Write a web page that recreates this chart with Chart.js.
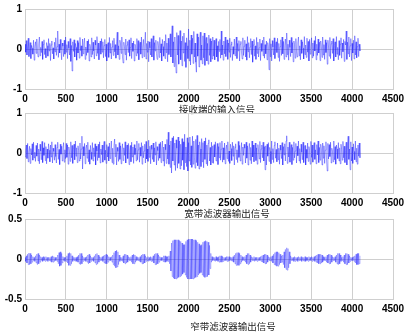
<!DOCTYPE html>
<html>
<head>
<meta charset="utf-8">
<script src="https://cdn.jsdelivr.net/npm/chart.js@4"></script>
<style>
  html, body { margin: 0; padding: 0; background: #ffffff; }
  #wrap { position: relative; width: 411px; height: 333px; }
  #wrap canvas { position: absolute; left: 0; top: 0; }
</style>
</head>
<body>
<div id="wrap">
  <canvas id="c1" width="411" height="333"></canvas>
  <canvas id="c2" width="411" height="333"></canvas>
  <canvas id="c3" width="411" height="333"></canvas>
</div>
<script>
/* sample step between stored values (samples 0..4096) */
var sampleStep = 8;

/* x ticks shared by all three plots */
var xTicks = [0, 500, 1000, 1500, 2000, 2500, 3000, 3500, 4000, 4500];

/* subplot titles */
var titles = ['接收端的输入信号', '宽带滤波器输出信号', '窄带滤波器输出信号'];

/* received input signal */
var inputSignal = [
  0.12,-0.08,0.21,-0.15,0.05,0.27,-0.19,-0.03,0.16,-0.24,0.09,0.02,-0.13,0.22,-0.28,0.07,
  0.18,-0.11,0.25,-0.06,-0.20,0.13,0.30,-0.17,0.04,-0.09,0.19,-0.26,0.11,0.23,-0.14,0.01,
  -0.22,0.16,0.08,-0.18,0.26,-0.05,0.14,-0.29,0.10,0.20,-0.12,0.03,-0.25,0.17,-0.07,0.28,
  -0.16,0.06,0.45,-0.21,0.12,-0.10,0.24,-0.02,-0.27,0.15,0.07,-0.19,0.22,-0.13,0.30,-0.08,
  0.11,-0.24,0.19,0.02,-0.15,0.26,-0.31,0.09,-0.55,0.18,-0.06,0.23,-0.20,0.14,0.04,-0.28,
  0.21,-0.10,0.16,-0.23,0.29,-0.04,0.08,-0.18,0.25,-0.12,0.13,0.27,-0.26,0.05,-0.16,0.20,
  -0.09,0.24,-0.30,0.12,0.06,-0.20,0.28,-0.14,0.17,-0.05,-0.25,0.22,0.10,-0.17,0.31,-0.11,
  0.15,-0.27,0.03,0.20,-0.13,0.26,-0.08,0.18,-0.22,0.09,0.24,-0.19,0.12,-0.30,0.07,0.16,
  -0.21,0.29,-0.10,0.14,-0.25,0.05,0.21,-0.16,0.27,-0.07,0.11,-0.23,0.18,0.42,-0.15,0.08,
  -0.26,0.22,0.13,-0.11,0.30,-0.20,-0.35,0.17,0.06,-0.14,0.25,-0.28,0.10,0.19,-0.09,0.23,
  -0.18,0.04,0.28,-0.24,0.15,-0.06,0.20,-0.30,0.12,0.07,-0.17,0.26,-0.11,0.21,-0.27,0.09,
  0.17,-0.13,0.30,-0.22,0.05,0.24,-0.19,0.11,0.42,-0.25,0.14,-0.08,0.20,-0.32,0.18,0.03,
  -0.15,0.26,-0.20,0.10,0.33,-0.28,0.16,-0.05,0.22,-0.12,-0.26,0.19,0.08,-0.21,0.29,-0.10,
  0.13,-0.30,0.24,0.06,-0.18,0.20,-0.24,0.36,-0.09,0.15,-0.32,0.27,-0.14,0.10,0.38,-0.20,
  0.25,0.58,-0.35,0.18,-0.44,0.30,-0.22,-0.60,0.41,-0.15,0.34,-0.38,0.12,0.46,-0.27,0.20,
  -0.42,0.32,-0.10,0.40,-0.31,0.16,-0.46,0.28,0.08,-0.24,0.50,-0.30,0.22,-0.40,0.35,-0.13,
  0.27,-0.36,0.44,-0.20,0.15,-0.33,-0.58,0.38,-0.18,0.30,-0.45,0.24,0.42,-0.28,0.10,-0.37,
  0.33,-0.22,0.40,-0.41,0.18,0.29,-0.30,0.14,-0.38,0.35,-0.16,0.26,-0.32,0.20,-0.25,0.30,
  -0.18,0.22,-0.27,0.12,0.26,-0.20,0.08,-0.31,0.19,-0.06,0.24,-0.23,0.45,-0.15,0.10,-0.28,
  0.20,-0.12,0.30,-0.19,0.04,0.23,-0.26,0.15,-0.08,0.27,-0.21,0.11,0.18,-0.29,0.06,-0.13,
  0.25,-0.17,0.09,0.30,-0.24,0.14,-0.05,0.21,-0.30,0.12,0.19,-0.10,-0.25,0.28,-0.16,0.07,
  0.22,-0.20,0.13,-0.28,0.31,-0.07,0.16,-0.22,0.05,0.26,-0.14,0.20,-0.33,0.10,0.24,-0.18,
  0.08,-0.26,0.29,-0.11,0.17,-0.20,0.03,0.25,-0.29,0.14,-0.06,0.22,-0.17,0.30,-0.23,0.11,
  -0.12,0.20,-0.27,0.16,0.07,-0.52,0.26,-0.19,0.13,-0.30,0.21,0.05,-0.15,0.28,-0.24,0.10,
  0.18,-0.09,0.27,-0.21,0.14,-0.31,0.06,0.23,-0.16,0.30,-0.12,0.19,-0.26,0.09,0.25,-0.20,
  0.40,-0.14,0.12,-0.28,0.22,0.04,-0.19,0.29,-0.10,0.16,-0.32,0.20,0.11,-0.23,0.26,-0.06,
  -0.20,0.15,0.30,-0.17,0.08,-0.27,0.23,-0.11,0.18,0.02,-0.25,0.31,-0.14,0.10,-0.21,0.27,
  -0.08,0.19,-0.30,0.24,-0.13,0.06,0.28,-0.22,0.15,-0.18,0.21,-0.05,0.32,-0.27,0.12,-0.16,
  0.25,-0.10,0.17,-0.29,0.20,0.07,-0.21,0.30,-0.15,0.11,-0.26,0.23,-0.09,0.16,-0.38,0.22,
  0.05,-0.18,0.29,-0.24,0.13,0.20,-0.11,0.26,-0.30,0.09,0.18,-0.20,0.31,-0.13,0.04,-0.27,
  0.21,-0.16,0.12,0.28,-0.23,0.15,-0.07,0.24,-0.31,0.19,0.10,0.45,-0.26,0.17,-0.12,0.30,
  -0.20,0.08,0.26,-0.29,0.14,-0.10,0.22,-0.25,0.33,-0.15,0.18,-0.22,0.06,0.27,-0.19,0.12,
  -0.05
];

/* wideband filter output */
var wideOutput = [
  -0.10,0.06,0.20,-0.14,0.24,-0.22,0.03,0.17,-0.26,0.11,-0.05,0.23,-0.18,0.27,-0.12,0.02,
  -0.21,0.19,-0.08,0.25,-0.20,0.10,-0.27,0.22,0.05,-0.17,0.29,-0.24,0.13,-0.06,0.26,-0.19,
  0.16,-0.27,0.10,-0.13,0.23,0.07,-0.22,0.20,-0.10,0.28,-0.25,0.12,0.04,-0.18,0.21,-0.09,
  -0.25,0.14,0.27,-0.16,0.09,-0.29,0.22,-0.03,0.17,-0.20,0.12,0.26,-0.23,0.08,-0.14,0.24,
  -0.11,0.20,-0.28,0.15,0.03,-0.21,0.28,-0.12,0.19,-0.26,0.09,0.22,-0.17,0.30,-0.08,0.13,
  -0.24,0.18,0.06,-0.20,0.25,-0.15,0.10,0.42,-0.40,0.16,-0.07,0.24,-0.27,0.11,0.20,-0.13,
  0.27,-0.22,0.08,-0.28,0.19,0.02,-0.16,0.26,-0.20,0.13,-0.09,0.23,-0.30,0.17,0.05,-0.19,
  0.22,-0.12,0.28,-0.25,0.10,-0.04,0.20,-0.23,0.15,0.29,-0.18,0.07,-0.26,0.21,-0.10,0.16,
  -0.20,0.25,-0.14,0.06,0.30,-0.24,0.12,-0.28,0.19,0.35,-0.09,0.22,-0.30,0.14,0.04,-0.21,
  0.26,-0.16,0.18,-0.27,0.09,0.23,-0.19,0.13,-0.06,0.28,-0.25,0.11,0.20,-0.14,0.24,-0.29,
  0.07,0.19,-0.22,0.27,-0.10,0.15,-0.26,0.21,-0.04,0.12,-0.20,0.30,-0.17,0.08,0.24,-0.23,
  0.14,-0.08,0.26,-0.28,0.18,-0.12,0.05,0.22,-0.25,0.29,-0.15,0.10,-0.21,0.32,-0.11,0.17,
  -0.27,0.20,0.09,-0.16,0.25,-0.22,0.13,-0.05,0.28,-0.30,0.16,0.06,-0.19,0.23,-0.13,0.27,
  -0.24,0.10,0.30,-0.20,0.15,-0.33,0.22,0.08,-0.26,0.34,-0.15,0.52,-0.28,0.20,-0.36,0.30,
  -0.50,0.38,-0.20,0.42,-0.30,0.25,-0.44,0.33,0.12,-0.38,0.40,-0.26,0.30,-0.40,0.22,-0.32,
  0.36,-0.18,0.28,-0.42,0.47,-0.24,0.15,-0.34,0.38,-0.45,0.26,-0.20,0.40,-0.30,0.18,-0.36,
  0.42,-0.28,0.30,-0.12,-0.38,0.34,-0.24,0.44,-0.32,0.20,-0.40,0.28,0.10,-0.34,0.36,-0.22,
  0.26,-0.37,0.30,-0.16,0.38,-0.27,0.20,-0.32,0.24,0.33,-0.20,0.14,-0.30,0.27,-0.24,0.18,
  -0.26,0.21,-0.10,0.28,-0.20,0.07,0.24,-0.29,0.16,-0.12,0.26,-0.18,0.10,0.30,-0.23,0.13,
  -0.17,0.25,-0.27,0.09,0.20,-0.14,0.28,-0.21,0.05,-0.26,0.22,0.11,-0.19,0.27,-0.08,0.18,
  -0.30,0.14,0.23,-0.16,0.08,-0.24,0.29,-0.11,0.19,-0.20,0.03,0.26,-0.28,0.15,-0.06,0.22,
  0.12,-0.25,0.27,-0.13,0.18,-0.30,0.09,0.24,-0.18,0.14,-0.27,0.30,-0.10,0.20,-0.22,0.06,
  0.25,-0.19,0.13,-0.28,0.21,0.05,-0.15,0.29,-0.24,0.10,0.20,-0.12,0.27,-0.20,0.16,-0.42,
  0.18,-0.30,0.22,-0.08,0.26,-0.21,0.14,0.04,-0.27,0.30,-0.16,0.11,-0.24,0.19,0.28,-0.13,
  0.09,-0.22,0.25,-0.17,0.12,-0.28,0.20,0.07,-0.14,0.26,-0.30,0.16,-0.05,0.23,-0.20,0.30,
  0.43,-0.26,0.15,-0.10,0.27,-0.23,0.08,0.21,-0.29,0.14,-0.18,0.28,-0.12,0.05,0.24,-0.25,
  0.17,-0.07,0.30,-0.20,0.11,-0.26,0.22,0.02,-0.17,0.27,-0.24,0.13,0.19,-0.30,0.09,-0.13,
  0.25,-0.21,0.16,0.06,-0.28,0.29,-0.11,0.20,-0.23,0.12,0.26,-0.16,0.08,-0.27,0.21,-0.05,
  0.30,-0.24,0.14,-0.18,0.22,0.10,-0.30,0.25,-0.13,0.18,-0.26,0.07,0.28,-0.20,-0.45,0.24,
  -0.15,0.21,-0.09,0.27,-0.25,0.12,0.04,-0.22,0.30,-0.17,0.16,-0.28,0.20,0.10,-0.14,0.26,
  -0.20,0.13,-0.27,0.22,0.08,-0.18,0.29,-0.12,0.17,-0.24,0.06,0.27,-0.30,0.19,0.42,-0.16,
  0.10,-0.42,0.28,-0.20,0.15,-0.26,0.23,0.04,-0.17,0.30,-0.22,0.12,-0.28,0.20,-0.08,0.25,
  -0.12
];

/* narrowband filter output */
var narrowOutput = [
  0.02,-0.03,0.04,-0.05,0.06,-0.07,0.075,-0.07,0.07,-0.06,0.05,-0.04,0.03,-0.02,0.02,-0.03,
  0.04,-0.05,0.06,-0.07,0.07,-0.06,0.05,-0.04,0.03,-0.02,0.02,-0.03,0.03,-0.02,0.02,-0.03,
  0.03,-0.02,0.02,-0.03,0.02,-0.02,0.02,-0.03,0.03,-0.04,0.04,-0.04,0.03,-0.03,0.02,-0.02,
  0.02,-0.03,0.05,-0.06,0.08,-0.09,0.09,-0.08,0.07,-0.05,0.03,-0.02,0.02,-0.03,0.02,-0.03,
  0.04,-0.05,0.07,-0.08,0.08,-0.08,0.07,-0.06,0.04,-0.03,0.02,-0.02,0.02,-0.03,0.02,-0.03,
  0.03,-0.04,0.05,-0.06,0.07,-0.07,0.07,-0.06,0.04,-0.03,0.02,-0.02,0.02,-0.03,0.03,-0.04,
  0.05,-0.06,0.06,-0.05,0.04,-0.03,0.02,-0.02,0.02,-0.03,0.04,-0.05,0.06,-0.07,0.07,-0.06,
  0.05,-0.04,0.03,-0.02,0.02,-0.02,0.03,-0.03,0.04,-0.05,0.05,-0.06,0.06,-0.06,0.05,-0.04,
  0.03,-0.02,0.02,-0.02,0.03,-0.04,0.05,-0.07,0.08,-0.09,0.10,-0.11,0.11,-0.10,0.09,-0.07,
  0.05,-0.03,0.02,-0.02,0.02,-0.03,0.04,-0.05,0.06,-0.06,0.06,-0.05,0.05,-0.04,0.03,-0.02,
  0.02,-0.02,0.03,-0.04,0.05,-0.06,0.06,-0.06,0.05,-0.04,0.03,-0.02,0.02,-0.02,0.02,-0.03,
  0.03,-0.04,0.05,-0.06,0.06,-0.06,0.06,-0.05,0.04,-0.03,0.02,-0.02,0.03,-0.03,0.02,-0.02,
  0.03,-0.03,0.02,-0.03,0.04,-0.05,0.06,-0.07,0.07,-0.07,0.07,-0.06,0.05,-0.04,0.03,-0.02,
  0.02,-0.02,0.02,-0.03,0.04,-0.04,0.04,-0.04,0.03,-0.03,0.03,-0.03,0.04,-0.06,0.10,-0.15,
  0.20,-0.22,0.23,-0.24,0.24,-0.25,0.24,-0.25,0.24,-0.24,0.24,-0.23,0.23,-0.22,0.22,-0.21,
  0.20,-0.19,0.18,-0.17,0.18,-0.20,0.22,-0.23,0.24,-0.25,0.25,-0.25,0.25,-0.25,0.25,-0.25,
  0.25,-0.25,0.24,-0.24,0.24,-0.23,0.23,-0.22,0.21,-0.20,0.19,-0.18,0.17,-0.17,0.18,-0.20,
  0.21,-0.22,0.22,-0.23,0.23,-0.22,0.22,-0.22,0.21,-0.20,0.17,-0.12,0.07,-0.04,0.03,-0.02,
  0.02,-0.02,0.02,-0.03,0.03,-0.02,0.02,-0.03,0.03,-0.04,0.04,-0.04,0.04,-0.04,0.03,-0.03,
  0.02,-0.02,0.02,-0.02,0.03,-0.03,0.03,-0.03,0.03,-0.02,0.02,-0.02,0.02,-0.03,0.03,-0.04,
  0.05,-0.06,0.07,-0.08,0.08,-0.08,0.08,-0.08,0.07,-0.06,0.05,-0.04,0.03,-0.02,0.02,-0.02,
  0.03,-0.04,0.05,-0.06,0.07,-0.07,0.07,-0.06,0.05,-0.04,0.03,-0.02,0.02,-0.02,0.03,-0.03,
  0.02,-0.02,0.02,-0.03,0.02,-0.02,0.02,-0.02,0.03,-0.03,0.04,-0.04,0.05,-0.05,0.06,-0.06,
  0.06,-0.06,0.05,-0.04,0.03,-0.02,0.02,-0.02,0.03,-0.03,0.04,-0.05,0.06,-0.07,0.08,-0.08,
  0.09,-0.09,0.09,-0.09,0.08,-0.07,0.06,-0.05,0.04,-0.04,0.05,-0.07,0.09,-0.11,0.12,-0.13,
  0.14,-0.14,0.13,-0.11,0.09,-0.06,0.04,-0.02,0.02,-0.02,0.02,-0.03,0.03,-0.03,0.02,-0.02,
  0.02,-0.03,0.03,-0.02,0.02,-0.02,0.03,-0.03,0.02,-0.02,0.02,-0.03,0.03,-0.03,0.02,-0.02,
  0.02,-0.03,0.03,-0.02,0.02,-0.02,0.03,-0.03,0.02,-0.02,0.03,-0.03,0.04,-0.04,0.05,-0.05,
  0.06,-0.06,0.06,-0.06,0.06,-0.05,0.05,-0.04,0.03,-0.02,0.02,-0.02,0.03,-0.04,0.05,-0.05,
  0.06,-0.06,0.06,-0.06,0.05,-0.04,0.03,-0.02,0.02,-0.02,0.03,-0.04,0.05,-0.06,0.07,-0.07,
  0.07,-0.06,0.05,-0.03,0.02,-0.02,0.03,-0.04,0.05,-0.06,0.07,-0.07,0.07,-0.07,0.06,-0.05,
  0.04,-0.03,0.02,-0.02,0.02,-0.02,0.03,-0.03,0.04,-0.05,0.06,-0.07,0.07,-0.07,0.07,-0.06,
  0.04
];

/* pair each stored value with its sample index */
function toPoints(arr) {
    var pts = [];
    for (var i = 0; i < arr.length; i++) {
        pts.push({ x: i * sampleStep, y: arr[i] });
    }
    return pts;
}

/* draws the subplot label under the x ticks */
var subTitlePlugin = {
    id: 'subTitle',
    afterDraw: function (chart, args, opts) {
        var ctx = chart.ctx;
        var area = chart.chartArea;
        ctx.save();
        ctx.font = '9.5px "Noto Sans CJK SC"';
        ctx.fillStyle = '#222222';
        ctx.textAlign = 'center';
        ctx.textBaseline = 'middle';
        ctx.fillText(opts.text, (area.left + area.right) / 2 + opts.dx, area.bottom + opts.dy);
        ctx.restore();
    }
};

var gridColor = '#cfcfcf';
var tickFont = { family: '"Liberation Sans", Arial, sans-serif', size: 10, weight: 'bold' };

function makePlot(id, values, yMin, yMax, yStep, areaTop, title, dx, dy, lineColor) {
    var xAxisH = 20;
    var areaBottom = areaTop + 80;
    var ctx = document.getElementById(id).getContext('2d');
    return new Chart(ctx, {
        type: 'line',
        data: {
            datasets: [{
                data: toPoints(values),
                borderColor: lineColor,
                borderWidth: 0.8,
                pointRadius: 0,
                tension: 0,
                fill: false
            }]
        },
        options: {
            responsive: false,
            animation: false,
            devicePixelRatio: 1,
            events: [],
            layout: {
                padding: { left: 0, right: 18, top: areaTop, bottom: 333 - areaBottom - xAxisH }
            },
            plugins: {
                legend: { display: false },
                tooltip: { enabled: false },
                subTitle: { text: title, dx: dx, dy: dy }
            },
            scales: {
                x: {
                    type: 'linear',
                    min: xTicks[0],
                    max: xTicks[xTicks.length - 1],
                    afterBuildTicks: function (scale) {
                        scale.ticks = xTicks.map(function (v) { return { value: v }; });
                    },
                    afterFit: function (scale) { scale.height = xAxisH; },
                    grid: { color: gridColor, lineWidth: 1, drawTicks: false },
                    border: { color: gridColor },
                    ticks: {
                        color: '#000000',
                        font: tickFont,
                        padding: 4,
                        maxRotation: 0,
                        autoSkip: false,
                        callback: function (v) { return String(v); }
                    }
                },
                y: {
                    min: yMin,
                    max: yMax,
                    afterFit: function (scale) { scale.width = 25; },
                    grid: { color: gridColor, lineWidth: 1, drawTicks: false },
                    border: { color: gridColor },
                    ticks: {
                        stepSize: yStep,
                        color: '#000000',
                        font: tickFont,
                        padding: 3,
                        callback: function (v) { return String(v); }
                    }
                }
            }
        },
        plugins: [subTitlePlugin]
    });
}

makePlot('c1', inputSignal, -1, 1, 1, 9, titles[0], 8, 20, 'rgba(20, 20, 255, 0.5)');
makePlot('c2', wideOutput, -1, 1, 1, 113, titles[1], 18, 20, 'rgba(20, 20, 255, 0.5)');
makePlot('c3', narrowOutput, -0.5, 0.5, 0.5, 219, titles[2], 24, 27, 'rgba(30, 30, 255, 0.4)');
</script>
</body>
</html>
